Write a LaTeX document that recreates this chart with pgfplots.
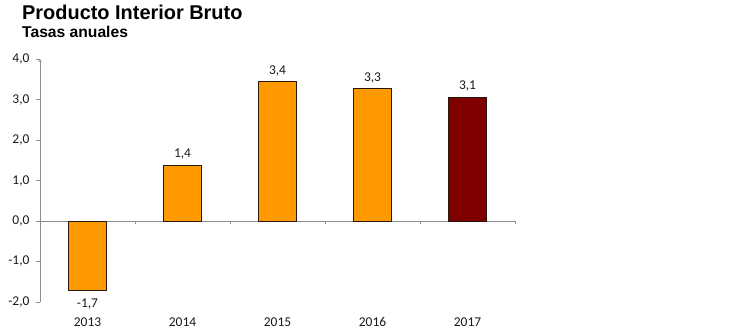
\documentclass[border=0pt]{standalone}
\usepackage{pgfplots}
\pgfplotsset{compat=1.18}
\usepackage{fontspec}
\setmainfont{Carlito}
\newfontfamily\arialfont{Liberation Sans}
\definecolor{barorange}{HTML}{FF9900}
\definecolor{bardark}{HTML}{800000}
\definecolor{axgray}{HTML}{8C8C8C}
\begin{document}
\begin{tikzpicture}
\path[use as bounding box] (0bp,0bp) rectangle (750bp,335bp);
\node[anchor=base west,inner sep=0pt,font=\arialfont\bfseries\fontsize{20}{22}\selectfont] at (22bp,315bp) {Producto Interior Bruto};
\node[anchor=base west,inner sep=0pt,font=\arialfont\bfseries\fontsize{15.7}{17}\selectfont] at (22bp,297bp) {Tasas anuales};
\begin{axis}[
  at={(40bp,276bp)}, anchor=north west,
  scale only axis, width=475bp, height=243bp,
  xmin=-0.5, xmax=4.5, ymin=-2, ymax=4,
  axis lines=left,
  x axis line style={draw=none},
  y axis line style={axgray},
  xtick={0,1,2,3,4},
  xticklabels={2013,2014,2015,2016,2017},
  xtick style={draw=none},
  ytick={-2,-1,0,1,2,3,4},
  ytick style={axgray},
  tick align=outside,
  major tick length=4bp,
  tick label style={font=\fontsize{13.5}{15}\selectfont, text=black!90},
  yticklabel style={xshift=-3bp, /pgf/number format/.cd, fixed, fixed zerofill, precision=1, use comma},
  xticklabel style={yshift=-8bp},
  /pgf/number format/assume math mode=true,
  ybar, bar width=38bp,
  nodes near coords,
  nodes near coords style={font=\fontsize{13.5}{15}\selectfont, text=black!90, inner sep=5bp},
  /pgf/number format/.cd, fixed, fixed zerofill, precision=1, use comma,
  /pgfplots/.cd,
  clip=false,
]
\draw[axgray] (axis cs:-0.5,0) -- (axis cs:4.5,0);
\draw[axgray] (axis cs:0.5,0) -- (axis cs:0.5,-0.08);
\draw[axgray] (axis cs:1.5,0) -- (axis cs:1.5,-0.08);
\draw[axgray] (axis cs:2.5,0) -- (axis cs:2.5,-0.08);
\draw[axgray] (axis cs:3.5,0) -- (axis cs:3.5,-0.08);
\draw[axgray] (axis cs:4.5,0) -- (axis cs:4.5,-0.08);
\addplot[bar shift=0pt, fill=barorange, draw=black!80!brown, line width=0.8bp]
  coordinates {(1,1.38) (2,3.44) (3,3.28)};
\addplot[bar shift=0pt, fill=barorange, draw=black!80!brown, line width=0.8bp,
  nodes near coords style={yshift=-3bp}]
  coordinates {(0,-1.72)};
\addplot[bar shift=0pt, fill=bardark, draw=black!80!brown, line width=0.8bp]
  coordinates {(4,3.06)};
\end{axis}
\end{tikzpicture}
\end{document}
